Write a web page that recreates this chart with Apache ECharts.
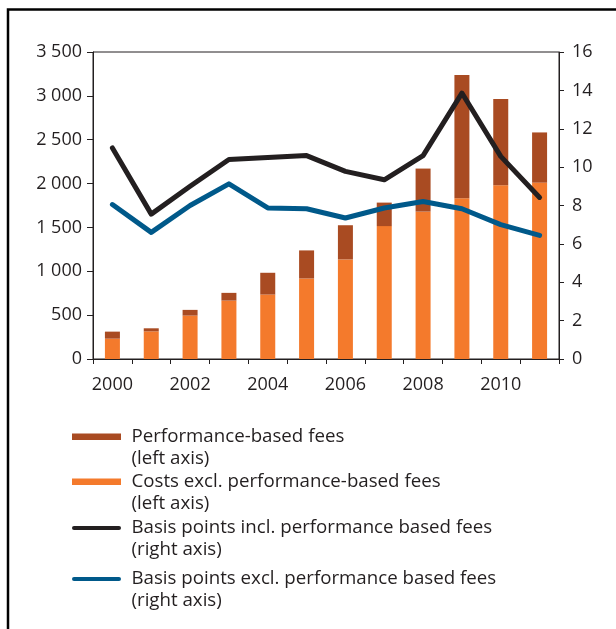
<!DOCTYPE html>
<html>
<head>
<meta charset="utf-8">
<script src="https://cdn.jsdelivr.net/npm/echarts@6/dist/echarts.min.js"></script>
<style>
  html, body { margin: 0; padding: 0; background: #fff; }
  #chart { width: 616px; height: 629px; }
</style>
</head>
<body>
<div id="chart"></div>
<script>
// Years on the category axis
const years = ['2000','2001','2002','2003','2004','2005','2006','2007','2008','2009','2010','2011'];
// Stacked cost bars (left axis)
const costsExclPerf = [232, 315, 495, 666, 735, 918, 1135, 1515, 1680, 1832, 1981, 2011];
const performanceFees = [80, 35, 65, 88, 248, 320, 390, 268, 491, 1406, 982, 572];
// Basis points lines (right axis)
const bpInclPerf = [11.0, 7.55, 9.0, 10.4, 10.5, 10.6, 9.78, 9.34, 10.6, 13.86, 10.56, 8.42];
const bpExclPerf = [8.05, 6.6, 8.0, 9.13, 7.87, 7.83, 7.35, 7.87, 8.21, 7.83, 7.0, 6.44];
// Axis ranges
const leftTicks = { min: 0, max: 3500, interval: 500 };
const rightTicks = { min: 0, max: 16, interval: 2 };

const names = [
  'Performance-based fees\n(left axis)',
  'Costs excl. performance-based fees\n(left axis)',
  'Basis points incl. performance based fees\n(right axis)',
  'Basis points excl. performance based fees\n(right axis)'
];

const ink = '#231F20';
const colPerf = '#A94B22';
const colCost = '#F47A2C';
const colBlack = '#231F20';
const colBlue = '#00598A';
const font = 'Open Sans';
const tickFont = 18;
const legendFont = 18.7;

const spaced = v => String(v).replace(/\B(?=(\d{3})+(?!\d))/g, ' ');

// Legend icons sit level with the first line of a two-line label:
// the icon box is as tall as the label, the swatch drawn in its upper part.
const ICON_W = 49, ICON_H = 43;
const anchors = 'M0,0 L0,0 M49,0 L49,0 M0,43 L0,43 M49,43 L49,43 ';
const barIcon = 'path://' + anchors + 'M0,7.5 L49,7.5 L49,14 L0,14 Z';
const lineIcon = 'path://' + anchors +
  'M2,8.75 L47,8.75 A2,2 0 0 1 47,12.75 L2,12.75 A2,2 0 0 1 2,8.75 Z';

function legendAt(top, name, icon) {
  return {
    left: 72, top: top,
    padding: 0,
    orient: 'vertical',
    itemWidth: ICON_W, itemHeight: ICON_H,
    icon: icon,
    itemGap: 0,
    selectedMode: false,
    data: [name],
    textStyle: {
      fontFamily: font, fontSize: legendFont, color: ink,
      lineHeight: 21.5, padding: [0, 0, 0, 5.5]
    }
  };
}

const chart = echarts.init(document.getElementById('chart'), null, { renderer: 'canvas' });
chart.setOption({
  animation: false,
  backgroundColor: '#fff',
  textStyle: { fontFamily: font },
  grid: {
    left: 93, right: 57, top: 52, bottom: 270,
    show: true, borderColor: ink, borderWidth: 1, backgroundColor: 'transparent'
  },
  legend: [
    legendAt(426, names[0], barIcon),
    legendAt(471, names[1], barIcon),
    legendAt(517.25, names[2], lineIcon),
    legendAt(568.25, names[3], lineIcon)
  ],
  graphic: [{
    type: 'rect',
    shape: { x: 8, y: 9.5, width: 700, height: 700 },
    style: { fill: 'none', stroke: '#000', lineWidth: 2.5 },
    silent: true
  }],
  xAxis: {
    type: 'category',
    data: years,
    boundaryGap: true,
    axisLine: { lineStyle: { color: ink, width: 1 } },
    axisTick: { show: true, interval: 0, length: 5, lineStyle: { color: ink } },
    axisLabel: { interval: 1, color: ink, fontSize: tickFont, fontFamily: font, margin: 17 },
    splitLine: { show: false }
  },
  yAxis: [{
    type: 'value',
    position: 'left',
    min: leftTicks.min, max: leftTicks.max, interval: leftTicks.interval,
    axisLine: { show: true, lineStyle: { color: ink, width: 1 } },
    axisTick: { show: true, length: 6, lineStyle: { color: ink } },
    axisLabel: { color: ink, fontSize: tickFont, fontFamily: font, margin: 11, formatter: spaced },
    splitLine: { show: false }
  }, {
    type: 'value',
    position: 'right',
    min: rightTicks.min, max: rightTicks.max, interval: rightTicks.interval,
    axisLine: { show: true, lineStyle: { color: ink, width: 1 } },
    axisTick: { show: true, length: 5, lineStyle: { color: ink } },
    axisLabel: { color: ink, fontSize: tickFont, fontFamily: font, margin: 13 },
    splitLine: { show: false }
  }],
  series: [{
    name: names[1],
    type: 'bar',
    stack: 'costs',
    yAxisIndex: 0,
    barWidth: 15,
    itemStyle: { color: colCost },
    data: costsExclPerf
  }, {
    name: names[0],
    type: 'bar',
    stack: 'costs',
    yAxisIndex: 0,
    barWidth: 15,
    itemStyle: { color: colPerf },
    data: performanceFees
  }, {
    name: names[2],
    type: 'line',
    yAxisIndex: 1,
    symbol: 'none',
    lineStyle: { color: colBlack, width: 5, join: 'round', cap: 'round' },
    itemStyle: { color: colBlack },
    data: bpInclPerf
  }, {
    name: names[3],
    type: 'line',
    yAxisIndex: 1,
    symbol: 'none',
    lineStyle: { color: colBlue, width: 5, join: 'round', cap: 'round' },
    itemStyle: { color: colBlue },
    data: bpExclPerf
  }]
});
</script>
</body>
</html>
